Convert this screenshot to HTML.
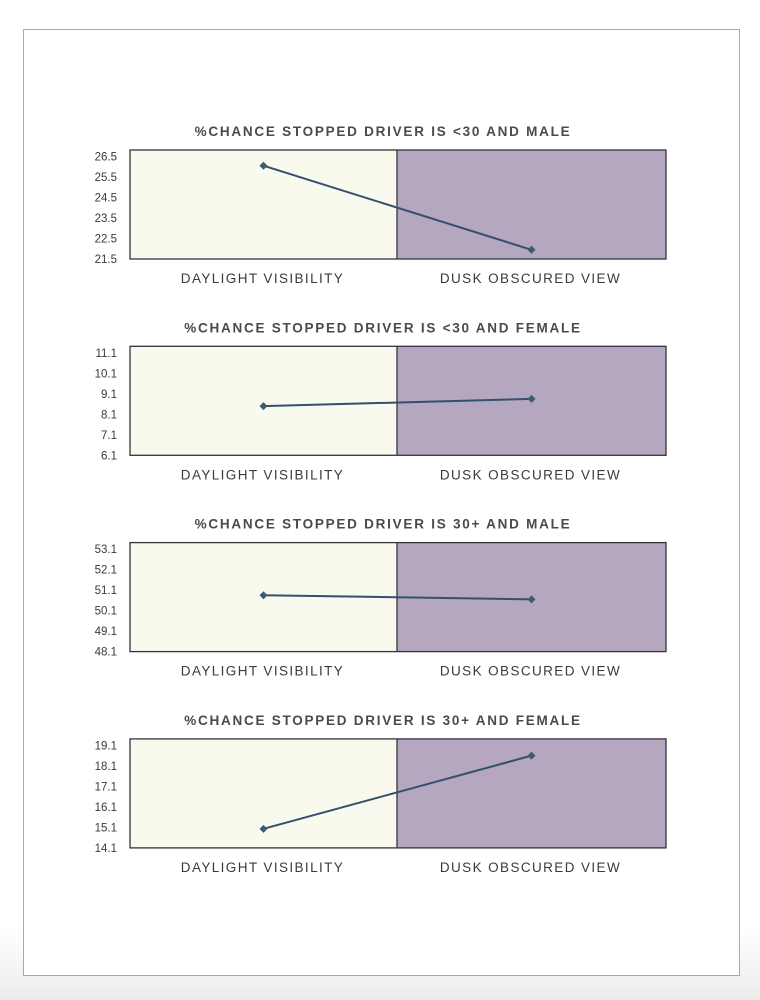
<!DOCTYPE html>
<html><head><meta charset="utf-8"><style>
html,body{margin:0;padding:0;width:760px;height:1000px;background:linear-gradient(#fff 0,#fff 930px,#ececec 1000px);overflow:hidden}
</style></head><body>
<svg id="svg" width="760" height="1000" xmlns="http://www.w3.org/2000/svg">
<rect x="23.5" y="29.5" width="716" height="946" fill="#fff" stroke="#a8a8a8" stroke-width="1"/>
</svg>
<script>
const titles = ["%CHANCE STOPPED DRIVER IS <30 AND MALE","%CHANCE STOPPED DRIVER IS <30 AND FEMALE","%CHANCE STOPPED DRIVER IS 30+ AND MALE","%CHANCE STOPPED DRIVER IS 30+ AND FEMALE"];
const categories = ["DAYLIGHT VISIBILITY","DUSK OBSCURED VIEW"];
const daylightValues = [26.05, 8.5, 50.85, 15.03];
const duskValues = [21.95, 8.85, 50.65, 18.6];
const axisMins = [21.5, 6.1, 48.1, 14.1];
const tickSteps = [1, 1, 1, 1];
const NS = "http://www.w3.org/2000/svg";
const svg = document.getElementById('svg');
function mk(tag, attrs, parent){const e=document.createElementNS(NS,tag);for(const k in attrs)e.setAttribute(k,attrs[k]);(parent||svg).appendChild(e);return e;}
const X0=130, X1=666, XM=397, H=109, PX=20.5;
titles.forEach((t,i)=>{
  const top=150+i*196.3, bot=top+H;
  const g=mk('g',{});
  
  
  const y=v=>bot-(v-axisMins[i])*PX;
  const x=c=>c===0?(X0+XM)/2:(XM+X1)/2;
  const tt=mk('text',{x:383,y:top-14,'text-anchor':'middle','font-family':'Liberation Sans, sans-serif','font-size':'13.5','font-weight':'bold','letter-spacing':'1.75',fill:'#4a4a4e'},g);
  tt.textContent=t;
  
  
  const r1=mk('rect',{x:X0,y:top,width:XM-X0,height:H,fill:'#f9f9ee'},g);
  
  
  const r2=mk('rect',{x:XM,y:top,width:X1-XM,height:H,fill:'#b4a7bf'},g);
  
  
  const fr=mk('rect',{x:X0,y:top,width:X1-X0,height:H,fill:'none',stroke:'#333340','stroke-width':'1.3'},g);
  
  
  const dv=mk('line',{x1:XM,x2:XM,y1:top,y2:bot,stroke:'#333340','stroke-width':'1.3'},g);
  
  
  for(let k=0;k<=5;k++){
    const v=axisMins[i]+k*tickSteps[i];
    const tl=mk('text',{x:117,y:y(v)+4,'text-anchor':'end','font-family':'Liberation Sans, sans-serif','font-size':'11.5',fill:'#3a3a3a'},g);
    tl.textContent=v.toFixed(1);
    
    
  }
  categories.forEach((c,ci)=>{
    const cl=mk('text',{x:x(ci)-1,y:bot+24,'text-anchor':'middle','font-family':'Liberation Sans, sans-serif','font-size':'13.5','letter-spacing':'1.4',fill:'#3a3a3a'},g);
    cl.textContent=c;
    
    
  });
  const vals=[daylightValues[i],duskValues[i]];
  const ln=mk('line',{x1:x(0),y1:y(vals[0]),x2:x(1),y2:y(vals[1]),stroke:'#34506c','stroke-width':'2'},g);
  
  
  vals.forEach((v,ci)=>{
    const px=x(ci),py=y(v);
    const d=mk('polygon',{points:`${px},${py-4} ${px+4},${py} ${px},${py+4} ${px-4},${py}`,fill:'#3a5c70'},g);
    
    
  });
});
</script>
</body></html>
